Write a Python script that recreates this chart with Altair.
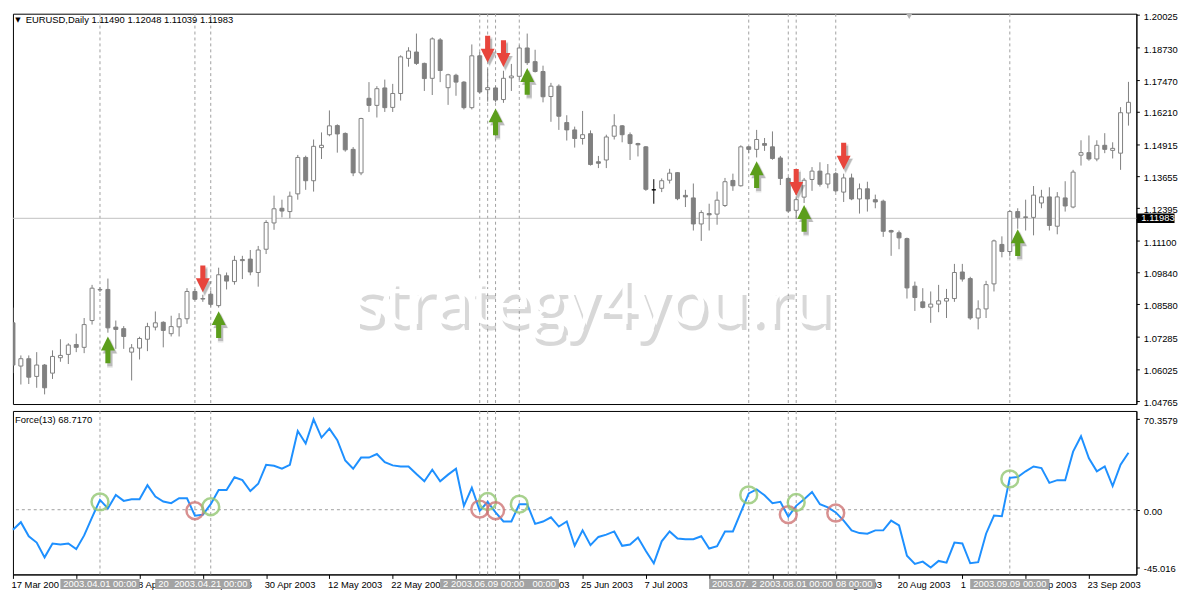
import altair as alt
import pandas as pd

# ---------------- data ----------------
opens = [1.0785, 1.0614, 1.0643, 1.0573, 1.0618, 1.0586, 1.0647, 1.0660, 1.0699, 1.0688,
         1.0794, 1.0915, 1.0917, 1.0768, 1.0762, 1.0669, 1.0685, 1.0720, 1.0768, 1.0787,
         1.0742, 1.0769, 1.0801, 1.0909, 1.0881, 1.0898, 1.0853, 1.0971, 1.0948, 1.1035,
         1.1037, 1.0984, 1.1076, 1.1180, 1.1238, 1.1225, 1.1295, 1.1439, 1.1347, 1.1478,
         1.1529, 1.1565, 1.1534, 1.1471, 1.1378, 1.1673, 1.1645, 1.1714, 1.1637, 1.1692,
         1.1831, 1.1856, 1.1811, 1.1752, 1.1904, 1.1715, 1.1764, 1.1737, 1.1636, 1.1841,
         1.1707, 1.1714, 1.1668, 1.1754, 1.1760, 1.1872, 1.1818, 1.1779, 1.1680, 1.1721,
         1.1577, 1.1548, 1.1514, 1.1533, 1.1422, 1.1429, 1.1523, 1.1564, 1.1529, 1.1494,
         1.1481, 1.1311, 1.1317, 1.1349, 1.1379, 1.1289, 1.1279, 1.1176, 1.1217, 1.1215,
         1.1249, 1.1348, 1.1327, 1.1481, 1.1471, 1.1494, 1.1481, 1.1437, 1.1356, 1.1230,
         1.1282, 1.1352, 1.1385, 1.1334, 1.1375, 1.1302, 1.1358, 1.1275, 1.1315, 1.1272,
         1.1266, 1.1150, 1.1141, 1.1118, 1.0930, 1.0868, 1.0847, 1.0859, 1.0871, 1.0881,
         1.0986, 1.0960, 1.0804, 1.0840, 1.0939, 1.1095, 1.1067, 1.1225, 1.1204, 1.1202,
         1.1259, 1.1283, 1.1167, 1.1279, 1.1243, 1.1448, 1.1458, 1.1433, 1.1487, 1.1467,
         1.1456, 1.1615]
highs = [1.0845, 1.0656, 1.0656, 1.0669, 1.0622, 1.0676, 1.0720, 1.0704, 1.0742, 1.0804,
         1.0935, 1.0926, 1.0960, 1.0794, 1.0772, 1.0701, 1.0730, 1.0785, 1.0830, 1.0791,
         1.0813, 1.0823, 1.0922, 1.0919, 1.0896, 1.0913, 1.1003, 1.0984, 1.1050, 1.1050,
         1.1073, 1.1089, 1.1191, 1.1288, 1.1272, 1.1304, 1.1449, 1.1446, 1.1510, 1.1538,
         1.1625, 1.1570, 1.1538, 1.1480, 1.1596, 1.1737, 1.1721, 1.1747, 1.1730, 1.1843,
         1.1875, 1.1929, 1.1814, 1.1914, 1.1911, 1.1770, 1.1770, 1.1741, 1.1886, 1.1856,
         1.1790, 1.1721, 1.1782, 1.1809, 1.1882, 1.1929, 1.1865, 1.1802, 1.1734, 1.1728,
         1.1606, 1.1561, 1.1623, 1.1546, 1.1445, 1.1529, 1.1610, 1.1567, 1.1538, 1.1497,
         1.1484, 1.1353, 1.1356, 1.1394, 1.1381, 1.1311, 1.1336, 1.1230, 1.1256, 1.1304,
         1.1358, 1.1375, 1.1487, 1.1484, 1.1548, 1.1516, 1.1542, 1.1445, 1.1362, 1.1285,
         1.1358, 1.1401, 1.1420, 1.1413, 1.1381, 1.1375, 1.1375, 1.1336, 1.1343, 1.1292,
         1.1272, 1.1153, 1.1150, 1.1122, 1.0948, 1.0922, 1.0909, 1.0935, 1.0919, 1.1018,
         1.1018, 1.0967, 1.0874, 1.0951, 1.1114, 1.1127, 1.1230, 1.1238, 1.1272, 1.1326,
         1.1311, 1.1321, 1.1302, 1.1345, 1.1390, 1.1507, 1.1526, 1.1507, 1.1535, 1.1499,
         1.1638, 1.1738]
lows = [1.0586, 1.0541, 1.0543, 1.0528, 1.0502, 1.0563, 1.0631, 1.0622, 1.0669, 1.0665,
        1.0778, 1.0907, 1.0746, 1.0682, 1.0682, 1.0557, 1.0640, 1.0673, 1.0755, 1.0688,
        1.0731, 1.0731, 1.0781, 1.0874, 1.0868, 1.0849, 1.0845, 1.0917, 1.0936, 1.0958,
        1.0973, 1.0928, 1.1057, 1.1153, 1.1202, 1.1199, 1.1272, 1.1311, 1.1304, 1.1433,
        1.1523, 1.1458, 1.1462, 1.1365, 1.1369, 1.1619, 1.1597, 1.1619, 1.1619, 1.1664,
        1.1798, 1.1805, 1.1702, 1.1686, 1.1737, 1.1647, 1.1683, 1.1629, 1.1629, 1.1693,
        1.1660, 1.1657, 1.1655, 1.1702, 1.1747, 1.1805, 1.1775, 1.1657, 1.1580, 1.1548,
        1.1506, 1.1478, 1.1490, 1.1407, 1.1397, 1.1397, 1.1510, 1.1499, 1.1429, 1.1443,
        1.1307, 1.1256, 1.1302, 1.1336, 1.1270, 1.1243, 1.1150, 1.1109, 1.1150, 1.1173,
        1.1243, 1.1307, 1.1324, 1.1456, 1.1439, 1.1465, 1.1430, 1.1330, 1.1221, 1.1195,
        1.1259, 1.1307, 1.1324, 1.1317, 1.1302, 1.1263, 1.1270, 1.1217, 1.1225, 1.1238,
        1.1125, 1.1050, 1.1076, 1.0881, 1.0832, 1.0842, 1.0785, 1.0827, 1.0804, 1.0868,
        1.0948, 1.0797, 1.0759, 1.0804, 1.0909, 1.1044, 1.1048, 1.1157, 1.1150, 1.1131,
        1.1238, 1.1150, 1.1135, 1.1225, 1.1238, 1.1407, 1.1426, 1.1424, 1.1456, 1.1435,
        1.1390, 1.1565]
closes = [1.0618, 1.0643, 1.0570, 1.0618, 1.0528, 1.0652, 1.0656, 1.0697, 1.0688, 1.0778,
          1.0922, 1.0917, 1.0765, 1.0759, 1.0731, 1.0686, 1.0723, 1.0770, 1.0785, 1.0755,
          1.0770, 1.0801, 1.0909, 1.0878, 1.0879, 1.0858, 1.0975, 1.0950, 1.1032, 1.1031,
          1.0986, 1.1073, 1.1182, 1.1236, 1.1227, 1.1286, 1.1439, 1.1347, 1.1483, 1.1487,
          1.1564, 1.1532, 1.1469, 1.1378, 1.1593, 1.1645, 1.1711, 1.1636, 1.1692, 1.1837,
          1.1860, 1.1811, 1.1751, 1.1908, 1.1783, 1.1766, 1.1737, 1.1636, 1.1841, 1.1698,
          1.1715, 1.1666, 1.1752, 1.1761, 1.1872, 1.1814, 1.1779, 1.1679, 1.1721, 1.1602,
          1.1548, 1.1514, 1.1529, 1.1411, 1.1416, 1.1520, 1.1564, 1.1529, 1.1494, 1.1489,
          1.1313, 1.1311, 1.1347, 1.1377, 1.1276, 1.1283, 1.1176, 1.1221, 1.1212, 1.1270,
          1.1343, 1.1327, 1.1481, 1.1471, 1.1510, 1.1487, 1.1435, 1.1356, 1.1227, 1.1272,
          1.1349, 1.1385, 1.1333, 1.1374, 1.1307, 1.1358, 1.1275, 1.1315, 1.1275, 1.1263,
          1.1147, 1.1144, 1.1121, 1.0923, 1.0885, 1.0846, 1.0859, 1.0872, 1.0881, 1.0984,
          1.0958, 1.0804, 1.0840, 1.0936, 1.1109, 1.1067, 1.1225, 1.1202, 1.1202, 1.1290,
          1.1283, 1.1170, 1.1283, 1.1247, 1.1381, 1.1458, 1.1433, 1.1487, 1.1471, 1.1475,
          1.1616, 1.1657]
force_values = [-15.6, -9.7, -20.7, -25.6, -37.1, -26.3, -27.1, -26.3, -30.7, -20.0,
                -5.9, 7.6, 1.0, 11.5, 6.9, 8.2, 8.2, 19.1, 10.2, 6.4,
                5.1, 8.9, 8.9, -4.6, -3.9, 4.3, 15.3, 15.3, 25.3, 23.0,
                14.5, 20.2, 35.0, 34.2, 31.9, 35.0, 61.3, 51.6, 70.3579, 56.2,
                63.1, 54.1, 38.3, 31.9, 40.6, 40.6, 43.4, 37.0, 34.5, 33.7,
                33.7, 27.8, 22.2, 31.1, 22.2, 27.3, 31.9, 3.0, 17.1, -0.8,
                6.1, -2.1, -9.2, -9.2, 4.3, 4.3, -11.0, -9.2, -5.9, -13.1,
                -9.2, -28.1, -16.1, -27.6, -21.2, -19.4, -16.9, -28.1, -27.1, -21.7,
                -32.2, -41.7, -24.6, -16.9, -22.5, -23.0, -23.0, -20.7, -30.2, -28.4,
                -16.9, -16.9, -2.1, 12.7, 15.8, 11.2, 5.1, 6.1, -5.4, 3.0,
                8.2, 13.8, 4.3, 1.8, -2.1, -8.5, -16.1, -18.2, -18.7, -16.1,
                -16.1, -8.5, -12.3, -35.8, -42.2, -40.4, -45.016, -39.9, -41.2, -25.6,
                -26.3, -41.7, -40.9, -18.7, -4.6, -5.1, 24.8, 25.5, 29.9, 33.7,
                32.4, 20.9, 23.0, 23.0, 45.2, 57.2, 40.1, 29.9, 33.7, 18.4,
                35.0, 44.4]

date_label_bars = [0, 8, 16, 24, 32, 40, 48, 56, 64, 72, 80, 88, 96, 104, 112, 120, 128, 136]
date_labels = ["17 Mar 2003", "27 Mar 2003", "8 Apr 2003", "18 Apr 2003", "30 Apr 2003",
               "12 May 2003", "22 May 2003", "3 Jun 2003", "13 Jun 2003", "25 Jun 2003",
               "7 Jul 2003", "17 Jul 2003", "29 Jul 2003", "8 Aug 2003", "20 Aug 2003",
               "1 Sep 2003", "11 Sep 2003", "23 Sep 2003"]
# how many leading characters of each date label stay visible left of the grey
# line-date boxes in the picture (None = whole label visible)
date_label_visible_chars = [10, 0, 4, None, None, None, 10, 0, None, None,
                            None, 0, 0, None, None, 2, None, None]
price_ticks = [1.20025, 1.18730, 1.17470, 1.16210, 1.14915, 1.13655, 1.12395,
               1.11100, 1.09840, 1.08580, 1.07285, 1.06025, 1.04765]
force_ticks = [70.3579, 0.0, -45.016]
force_tick_labels = ["70.3579", "0.00", "-45.016"]

signal_bars = [11, 23, 25, 59, 60, 61, 64, 93, 98, 99, 104, 126]
signal_types = ["up", "down", "up", "down", "up", "down", "up", "up", "down", "up", "down", "up"]
signal_force_levels = [6.1, -0.8, 2.3, 0.5, 6.4, -0.8, 4.3, 11.5, -3.8, 5.6, -2.6, 24.0]
signal_dates = ["2003.04.01", "2003.04.17", "2003.04.21", "2003.06.06", "2003.06.09",
                "2003.06.10", "2003.06.13", "2003.07.24", "2003.07.31", "2003.08.01",
                "2003.08.08", "2003.09.09"]
box_draw_order = [0, 1, 2, 3, 5, 6, 4, 7, 8, 10, 9, 11]
# part of each box label left visible by the boxes drawn over it (start, end) of "yyyy.mm.dd 00:00"
box_text_visible = [(0, 16), (0, 2), (0, 16), (0, 1), (0, 16), (0, 0),
                    (11, 16), (0, 9), (0, 1), (0, 16), (8, 16), (0, 16)]

arrow_up_bars = [12, 26, 61, 65, 94, 100, 127]
arrow_up_levels = [1.0678, 1.0778, 1.1580, 1.1740, 1.1371, 1.1198, 1.1102]
arrow_down_bars = [24, 60, 62, 99, 105]
arrow_down_levels = [1.0959, 1.1867, 1.1850, 1.1340, 1.1444]

bid_price = [1.11983]
zero_level = [0.0]
symbol_title = "EURUSD,Daily"
header_ohlc = [1.11490, 1.12048, 1.11039, 1.11983]
force_title = "Force(13) 68.7170"
watermark_text = "strategy4you.ru"

# ---------------- layout ----------------
W = 1134
H1 = 394
H2 = 165
FONT = "Liberation Sans"
FS = 9.5
GRAY = "#808080"
BOX_HALF_TEXT = 37

xs = alt.Scale(domain=[0, 142.0], nice=False, zero=False, padding=0)
ps = alt.Scale(domain=[1.04638, 1.20076], nice=False, zero=False, padding=0)
fs = alt.Scale(domain=[-50.4, 76.9], nice=False, zero=False, padding=0)

price_axis = alt.Axis(orient="right", values=price_ticks, format=".5f", tickSize=3,
                      labelPadding=4, labelFont=FONT, labelFontSize=FS, labelColor="black",
                      tickColor="black", domainColor="black", grid=False, title=None,
                      labelFlush=False, labelOverlap=False, labelOffset=1.5)

fexpr = "''"
for v, l in reversed(list(zip(force_ticks, force_tick_labels))):
    fexpr = f"abs(datum.value - ({v})) < 1e-6 ? '{l}' : {fexpr}"
force_axis = alt.Axis(orient="right", values=force_ticks, labelExpr=fexpr, tickSize=3,
                      labelPadding=4, labelFont=FONT, labelFontSize=FS, labelColor="black",
                      tickColor="black", domainColor="black", grid=False, title=None,
                      labelFlush=False, labelOverlap=False, labelOffset=1.5)

shown_labels = [s if n is None else s[:n] for s, n in zip(date_labels, date_label_visible_chars)]
dexpr = ("[" + ",".join(f"'{s}'" for s in shown_labels) + "][indexof(["
         + ",".join(str(b) for b in date_label_bars) + "], datum.value)]")
date_axis = alt.Axis(orient="bottom", values=date_label_bars, labelExpr=dexpr, tickSize=4,
                     labelPadding=1, labelAlign="left", labelBaseline="top", labelFont=FONT,
                     labelFontSize=FS, labelColor="black", tickColor="black",
                     domainColor="black", grid=False, title=None, labelFlush=False,
                     labelOverlap=False, labelOffset=-2)

kinds = []
for o, c in zip(opens, closes):
    kinds.append("doji" if o == c else ("bull" if c > o else "bear"))
candles = pd.DataFrame({"bar": list(range(len(opens))), "open": opens, "high": highs,
                        "low": lows, "close": closes, "kind": kinds})
force_df = pd.DataFrame({"bar": list(range(len(force_values))), "force": force_values})
sig_df = pd.DataFrame({"bar": signal_bars, "type": signal_types,
                       "level": signal_force_levels, "date": signal_dates})
up_df = pd.DataFrame({"bar": arrow_up_bars, "price": arrow_up_levels})
down_df = pd.DataFrame({"bar": arrow_down_bars, "price": arrow_down_levels})
bid_df = pd.DataFrame({"price": bid_price, "label": [f"{p:.5f}" for p in bid_price]})
zero_df = pd.DataFrame({"f": zero_level})

X = lambda: alt.X("bar:Q", scale=xs, axis=None)
Xf = lambda: alt.X("bar:Q", scale=xs, axis=date_axis)
Yp = lambda f: alt.Y(f, type="quantitative", scale=ps, axis=price_axis)
Yf = lambda f: alt.Y(f, type="quantitative", scale=fs, axis=force_axis)

kind_fill = alt.Fill("kind:N", scale=alt.Scale(domain=["bull", "bear", "doji"],
                                                range=["#ffffff", GRAY, "#000000"]), legend=None)
kind_stroke = alt.Stroke("kind:N", scale=alt.Scale(domain=["bull", "bear", "doji"],
                                                    range=[GRAY, GRAY, "#000000"]), legend=None)

UP_PATH = "M0,-1 L0.52,0.04 L0.19,0.04 L0.19,1 L-0.19,1 L-0.19,0.04 L-0.52,0.04 Z"
DOWN_PATH = "M0,1 L0.52,-0.04 L0.19,-0.04 L0.19,-1 L-0.19,-1 L-0.19,-0.04 L-0.52,-0.04 Z"
RECT_PATH = "M-1,-0.125 L1,-0.125 L1,0.125 L-1,0.125 Z"
BID_PATH = "M-1,-0.25 L1,-0.25 L1,0.25 L-1,0.25 Z"

# ---------------- price panel ----------------
p_vlines = alt.Chart(sig_df).mark_rule(color="#a0a0a0", strokeDash=[3, 3], strokeWidth=1).encode(x=X())
p_bid = alt.Chart(bid_df).mark_rule(color="#c0c0c0", strokeWidth=1).encode(y=Yp("price"))

wm_df = pd.DataFrame({"t": [watermark_text]})
wm_shadow = alt.Chart(wm_df).mark_text(font="Open Sans", fontSize=66, color="#8a8a8a",
                                       opacity=0.33, align="center", baseline="alphabetic",
                                       dx=4, dy=6).encode(text="t:N", x=alt.value(585), y=alt.value(313))
wm_main = alt.Chart(wm_df).mark_text(font="Open Sans", fontSize=66, color="white",
                                     align="center", baseline="alphabetic").encode(
    text="t:N", x=alt.value(585), y=alt.value(313))

wicks = alt.Chart(candles).mark_rule(strokeWidth=1, clip=True).encode(
    x=X(), y=Yp("low"), y2="high", stroke=kind_stroke)
bodies = alt.Chart(candles).mark_bar(size=4, strokeWidth=1, clip=True).encode(
    x=X(), y=Yp("open"), y2="close", fill=kind_fill, stroke=kind_stroke)

def arrows(df, path, color):
    sh1 = alt.Chart(df).mark_point(shape=path, size=900, filled=True, color="#000000",
                                   opacity=0.10, xOffset=2, yOffset=3, strokeWidth=0).encode(x=X(), y=Yp("price"))
    sh2 = alt.Chart(df).mark_point(shape=path, size=729, filled=True, color="#000000",
                                   opacity=0.18, xOffset=2, yOffset=3, strokeWidth=0).encode(x=X(), y=Yp("price"))
    main = alt.Chart(df).mark_point(shape=path, size=729, filled=True, color=color,
                                    opacity=1, strokeWidth=0).encode(x=X(), y=Yp("price"))
    return [sh1, sh2, main]

hdr_df = pd.DataFrame({"t": [symbol_title + "  " + " ".join(f"{v:.5f}" for v in header_ohlc)],
                       "tri": ["\u25bc"]})
hdr_tri = alt.Chart(hdr_df).mark_text(font="DejaVu Sans", fontSize=7, color="black", align="center",
                                      baseline="middle").encode(text="tri:N", x=alt.value(5), y=alt.value(6.5))
hdr_txt = alt.Chart(hdr_df).mark_text(font=FONT, fontSize=FS, color="black", align="left",
                                      baseline="middle").encode(text="t:N", x=alt.value(12.8), y=alt.value(6.5))
shift_mark = alt.Chart(hdr_df).mark_point(shape="triangle-down", size=45, filled=True, color="#b4b4b4",
                                          opacity=1, strokeWidth=0).encode(x=alt.value(904.7), y=alt.value(2.5))

bid_box = alt.Chart(bid_df).mark_point(shape=BID_PATH, size=38 * 38, filled=True, color="black",
                                       opacity=1, strokeWidth=0).encode(x=alt.value(W + 19.5), y=Yp("price"))
bid_txt = alt.Chart(bid_df).mark_text(font=FONT, fontSize=FS, color="white", align="left",
                                      baseline="middle").encode(text="label:N", x=alt.value(W + 5), y=Yp("price"))

price_layers = [p_vlines, p_bid, wm_shadow, wm_main, wicks, bodies] \
    + arrows(up_df, UP_PATH, "#5c9e1c") + arrows(down_df, DOWN_PATH, "#e8453c") \
    + [hdr_tri, hdr_txt, shift_mark, bid_box, bid_txt]
price = alt.layer(*price_layers).properties(width=W, height=H1)

# ---------------- force panel ----------------
f_vlines = alt.Chart(sig_df).mark_rule(color="#a0a0a0", strokeDash=[3, 3], strokeWidth=1).encode(x=Xf())
f_zero = alt.Chart(zero_df).mark_rule(color="#a0a0a0", strokeDash=[3, 3], strokeWidth=1).encode(y=Yf("f"))
f_line = alt.Chart(force_df).mark_line(color="#1e90ff", strokeWidth=2).encode(x=Xf(), y=Yf("force"))
f_circ = alt.Chart(sig_df).mark_point(shape="circle", filled=False, size=290, strokeWidth=2.5,
                                      opacity=0.8).encode(
    x=Xf(), y=Yf("level"),
    color=alt.Color("type:N", scale=alt.Scale(domain=["up", "down"], range=["#93c772", "#cf7575"]),
                    legend=None))
ft_df = pd.DataFrame({"t": [force_title]})
f_title = alt.Chart(ft_df).mark_text(font=FONT, fontSize=FS, color="black", align="left",
                                     baseline="middle").encode(text="t:N", x=alt.value(2), y=alt.value(9.5))

box_layers = []
for k in box_draw_order:
    full = signal_dates[k] + " 00:00"
    a, b = box_text_visible[k]
    d = pd.DataFrame({"bar": [signal_bars[k]], "label": [full[a:b]]})
    box_layers.append(alt.Chart(d).mark_point(shape=RECT_PATH, size=80 * 80, filled=True,
                                              color="#a3a3a3", opacity=1, strokeWidth=0)
                      .encode(x=Xf(), y=alt.value(H2 + 9.7)))
    if b <= a:
        continue
    if a == 0 and b == len(full):
        align, dx = "center", 0
    elif a == 0:
        align, dx = "left", -BOX_HALF_TEXT
    else:
        align, dx = "right", BOX_HALF_TEXT
    box_layers.append(alt.Chart(d).mark_text(font=FONT, fontSize=FS, color="white", align=align,
                                             baseline="middle", dx=dx)
                      .encode(text="label:N", x=Xf(), y=alt.value(H2 + 9.7)))

force = alt.layer(f_vlines, f_zero, f_line, f_circ, f_title, *box_layers).properties(width=W, height=H2)

chart = alt.vconcat(price, force, spacing=2).properties(
    padding={"left": 0, "top": 0, "right": 0, "bottom": 0}, background="white"
).configure_view(stroke="black", strokeWidth=1).resolve_scale(
    x="independent", stroke="independent", fill="independent", color="independent"
).resolve_axis(x="independent")

chart.save("out.html", embed_options={"renderer": "svg", "actions": False})
